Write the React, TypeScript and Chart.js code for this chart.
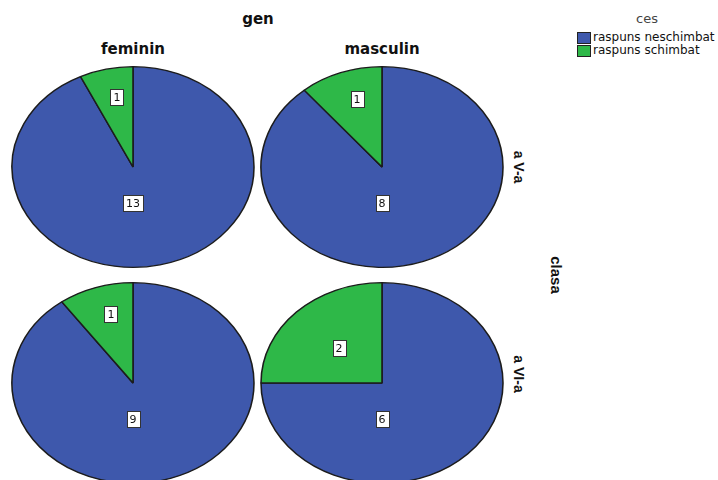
import React, { useEffect, useRef } from "react";
import { Chart, registerables } from "chart.js";

Chart.register(...registerables);

// ---- data ----
const responseCategories = ["raspuns neschimbat", "raspuns schimbat"];
const legendTitle = "ces";
const columnTitle = "gen";
const rowTitle = "clasa";
const genderLabels = ["feminin", "masculin"];
const classLabels = ["a V-a", "a VI-a"];
const valuesVFeminin = [13, 1];
const valuesVMasculin = [8, 1];
const valuesVIFeminin = [9, 1];
const valuesVIMasculin = [6, 2];
const sliceColors = ["#3E58AC", "#2EB848"];

const CANVAS_W = 246;
const CANVAS_H = 206;

const ellipsePlugin = {
  id: "ellipsePie",
  beforeDatasetsDraw(chart: any) {
    const ctx = chart.ctx;
    const a = chart.chartArea;
    const cx = (a.left + a.right) / 2;
    const cy = (a.top + a.bottom) / 2;
    const arc = chart.getDatasetMeta(0).data[0] as any;
    const r = arc.outerRadius;
    const sx = a.width / 2 / r;
    chart.$ellipseSx = sx;
    ctx.save();
    ctx.translate(cx, cy);
    ctx.scale(sx, 1);
    ctx.translate(-cx, -cy);
  },
  afterDatasetsDraw(chart: any) {
    const ctx = chart.ctx;
    ctx.restore();
    const sx = chart.$ellipseSx || 1;
    const meta = chart.getDatasetMeta(0);
    const values = chart.data.datasets[0].data as number[];
    const total = values.reduce((s, v) => s + v, 0);
    ctx.save();
    ctx.font = "11px 'DejaVu Sans'";
    ctx.textAlign = "center";
    ctx.textBaseline = "middle";
    meta.data.forEach((el: any, i: number) => {
      const v = values[i];
      const frac = v / total;
      const R = el.outerRadius;
      let mid = (el.startAngle + el.endAngle) / 2;
      let d: number;
      let lsx: number;
      if (frac > 0.5) {
        mid = Math.PI / 2;
        d = 0.36 * R;
        lsx = 1;
      } else if (frac < 0.15) {
        d = 0.72 * R;
        lsx = 1;
      } else {
        d = 0.5 * R;
        lsx = sx;
      }
      const x = el.x + Math.cos(mid) * d * lsx;
      const y = el.y + Math.sin(mid) * d;
      const text = String(v);
      const tw = ctx.measureText(text).width;
      const bw = Math.round(tw + 6);
      const bh = 16;
      const bx = Math.round(x - bw / 2) + 0.5;
      const by = Math.round(y - bh / 2) + 0.5;
      ctx.fillStyle = "#ffffff";
      ctx.fillRect(bx, by, bw, bh);
      ctx.strokeStyle = "#333333";
      ctx.lineWidth = 1;
      ctx.strokeRect(bx, by, bw, bh);
      ctx.fillStyle = "#111111";
      ctx.fillText(text, Math.round(x), Math.round(y) + 1);
    });
    ctx.restore();
  },
};

function PiePanel({ values, cx, cy }: { values: number[]; cx: number; cy: number }) {
  const ref = useRef<HTMLCanvasElement | null>(null);
  useEffect(() => {
    if (!ref.current) return;
    const chart = new Chart(ref.current, {
      type: "pie",
      data: {
        labels: responseCategories,
        datasets: [
          {
            data: values,
            backgroundColor: sliceColors,
            borderColor: "#1c1c1c",
            borderWidth: 1.3,
          },
        ],
      },
      options: {
        responsive: false,
        animation: false,
        layout: { padding: 2 },
        plugins: {
          legend: { display: false },
          tooltip: { enabled: false },
          title: { display: false },
        },
      },
      plugins: [ellipsePlugin],
    } as any);
    return () => chart.destroy();
  }, [values]);
  return (
    <canvas
      ref={ref}
      width={CANVAS_W}
      height={CANVAS_H}
      style={{
        position: "absolute",
        left: cx - CANVAS_W / 2,
        top: cy - CANVAS_H / 2,
        width: CANVAS_W,
        height: CANVAS_H,
      }}
    />
  );
}

const centered = (x: number, y: number, extra: React.CSSProperties = {}): React.CSSProperties => ({
  position: "absolute",
  left: x,
  top: y,
  transform: "translate(-50%, -50%)",
  whiteSpace: "nowrap",
  ...extra,
});

export default function App() {
  const boldHead: React.CSSProperties = {
    fontFamily: "'DejaVu Sans', sans-serif",
    fontWeight: "bold",
    fontSize: 15,
    color: "#111",
  };
  const sideLab: React.CSSProperties = {
    fontFamily: "'Liberation Sans', Arial, sans-serif",
    fontWeight: "bold",
    fontSize: 14,
    color: "#111",
  };
  return (
    <div
      style={{
        position: "fixed",
        left: 0,
        top: 0,
        width: 718,
        height: 480,
        overflow: "hidden",
        background: "#ffffff",
      }}
    >
      <PiePanel values={valuesVFeminin} cx={133} cy={167} />
      <PiePanel values={valuesVMasculin} cx={382} cy={167} />
      <PiePanel values={valuesVIFeminin} cx={133} cy={383} />
      <PiePanel values={valuesVIMasculin} cx={382} cy={383} />

      <div style={centered(258, 19, boldHead)}>{columnTitle}</div>
      <div style={centered(133, 49, boldHead)}>{genderLabels[0]}</div>
      <div style={centered(382, 49, boldHead)}>{genderLabels[1]}</div>

      <div style={centered(519, 167, { ...sideLab, transform: "translate(-50%, -50%) rotate(90deg)" })}>
        {classLabels[0]}
      </div>
      <div style={centered(519, 374, { ...sideLab, transform: "translate(-50%, -50%) rotate(90deg)" })}>
        {classLabels[1]}
      </div>
      <div
        style={centered(556, 275, {
          ...sideLab,
          fontSize: 15,
          transform: "translate(-50%, -50%) rotate(90deg)",
        })}
      >
        {rowTitle}
      </div>

      <div
        style={centered(647, 18, {
          fontFamily: "'DejaVu Sans', sans-serif",
          fontSize: 13,
          color: "#444",
        })}
      >
        {legendTitle}
      </div>
      {responseCategories.map((name, i) => (
        <div
          key={name}
          style={{
            position: "absolute",
            left: 577,
            top: 31 + i * 13,
            height: 13,
            display: "flex",
            alignItems: "center",
            whiteSpace: "nowrap",
          }}
        >
          <div
            style={{
              width: 12,
              height: 10,
              background: sliceColors[i],
              border: "1px solid #222",
              marginRight: 2,
            }}
          />
          <span
            style={{
              fontFamily: "'DejaVu Sans', sans-serif",
              fontSize: 12,
              color: "#111",
              lineHeight: "13px",
            }}
          >
            {name}
          </span>
        </div>
      ))}
    </div>
  );
}
